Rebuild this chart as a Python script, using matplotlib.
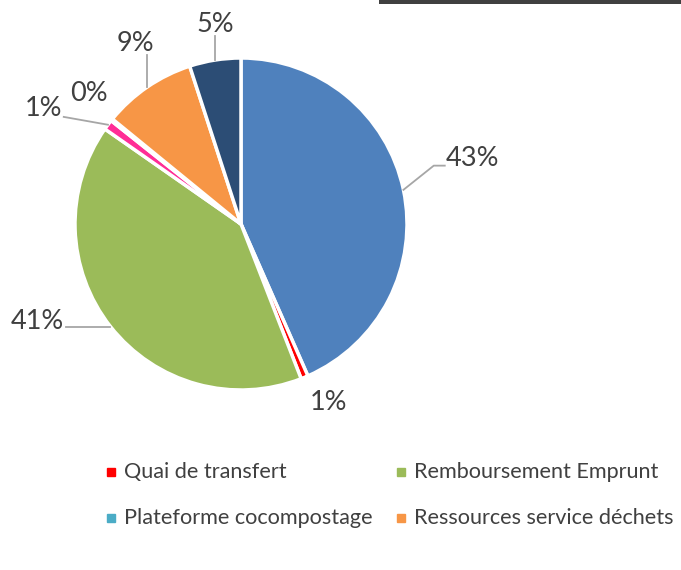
import numpy as np

import matplotlib
matplotlib.use("Agg")
import matplotlib.pyplot as plt
from matplotlib.lines import Line2D
from matplotlib.patches import Rectangle


# valeurs (%), sens horaire depuis midi
CATEGORIES = [
    "Part principale",
    "Quai de transfert",
    "Remboursement Emprunt",
    "Autre part",
    "Plateforme cocompostage",
    "Ressources service déchets",
    "Autres ressources",
]
VALUES = [43.4, 0.7, 40.6, 1.0, 0.2, 9.1, 5.0]
COLORS = ["#4F81BD", "#FF0000", "#9BBB59", "#FF2D96", "#4BACC6", "#F79646", "#2C4D75"]

# seules ces entrées apparaissent dans la légende
LEGEND_ITEMS = [
    "Quai de transfert",
    "Remboursement Emprunt",
    "Plateforme cocompostage",
    "Ressources service déchets",
]

# placement des étiquettes : distance radiale et décalage angulaire (degrés)
LABEL_R = [1.45, 1.20, 1.36, 1.38, 1.21, 1.26, 1.21]
LABEL_SHIFT = [4.0, 3.6, -12.6, 6.5, -1.7, -4.0, -1.5]
LEADER = ["elbow", None, "line", "line", None, "line", "line"]

TEXT_COLOR = "#404040"
LINE_COLOR = "#A6A6A6"
FONT = ["Lato", "DejaVu Sans"]

W, H = 681, 570
CX, CY, R = 241, 224, 166

plt.rcParams["font.family"] = FONT

fig = plt.figure(figsize=(W / 100, H / 100), dpi=100)

ax = fig.add_axes([(CX - R) / W, 1 - (CY + R) / H, 2 * R / W, 2 * R / H])
wedges, _ = ax.pie(
    VALUES,
    colors=COLORS,
    startangle=90,
    counterclock=False,
    radius=1.0,
    wedgeprops=dict(edgecolor="white", linewidth=2.5),
)
ax.set_xlim(-1, 1)
ax.set_ylim(-1, 1)
ax.set_aspect("equal")
ax.axis("off")

texts = []
for w, v, r, shift in zip(wedges, VALUES, LABEL_R, LABEL_SHIFT):
    mid = np.deg2rad((w.theta1 + w.theta2) / 2 + shift)
    t = ax.text(
        r * np.cos(mid),
        r * np.sin(mid),
        f"{v:.0f}%",
        ha="center",
        va="center",
        fontsize=19.5,
        color=TEXT_COLOR,
        clip_on=False,
    )
    texts.append(t)

# lignes de rappel : du bord de la part vers la boîte du texte
fig.canvas.draw()
renderer = fig.canvas.get_renderer()
to_data = ax.transData.inverted()
for w, t, kind in zip(wedges, texts, LEADER):
    if kind is None:
        continue
    mid = np.deg2rad((w.theta1 + w.theta2) / 2)
    edge = ax.transData.transform((np.cos(mid), np.sin(mid)))
    bb = t.get_window_extent(renderer)
    x0, x1 = bb.x0 + 2, bb.x1 - 2
    y0, y1 = bb.y0 + 5, bb.y1 - 5
    px = np.clip(edge[0], x0, x1)
    py = np.clip(edge[1], y0, y1)
    if kind == "elbow":
        pts = [edge, (px - 14, py), (px - 3, py)]
    else:
        d = np.array([px, py]) - edge
        end = edge + d * (1 - 4 / np.hypot(*d))
        pts = [edge, end]
    pts = to_data.transform(np.array(pts, dtype=float))
    ax.plot(pts[:, 0], pts[:, 1], color=LINE_COLOR, linewidth=1.3, clip_on=False)

# légende (2 colonnes)
col_x = [111, 401]
row_y = [472, 518]
for i, name in enumerate(LEGEND_ITEMS):
    color = COLORS[CATEGORIES.index(name)]
    x = col_x[i % 2]
    y = row_y[i // 2]
    fig.add_artist(Line2D([x / W], [1 - y / H], marker="s", markersize=6,
                          color=color, linestyle="none", transform=fig.transFigure))
    fig.text((x + 13) / W, 1 - y / H, name, ha="left", va="center",
             fontsize=15.6, color=TEXT_COLOR)

# bord du cadre de titre en haut à droite
fig.add_artist(Rectangle((379 / W, 1 - 4 / H), 1 - 379 / W, 4 / H,
                         transform=fig.transFigure, color="#404040", lw=0))

fig.savefig("out.png", dpi=100)
plt.close(fig)
